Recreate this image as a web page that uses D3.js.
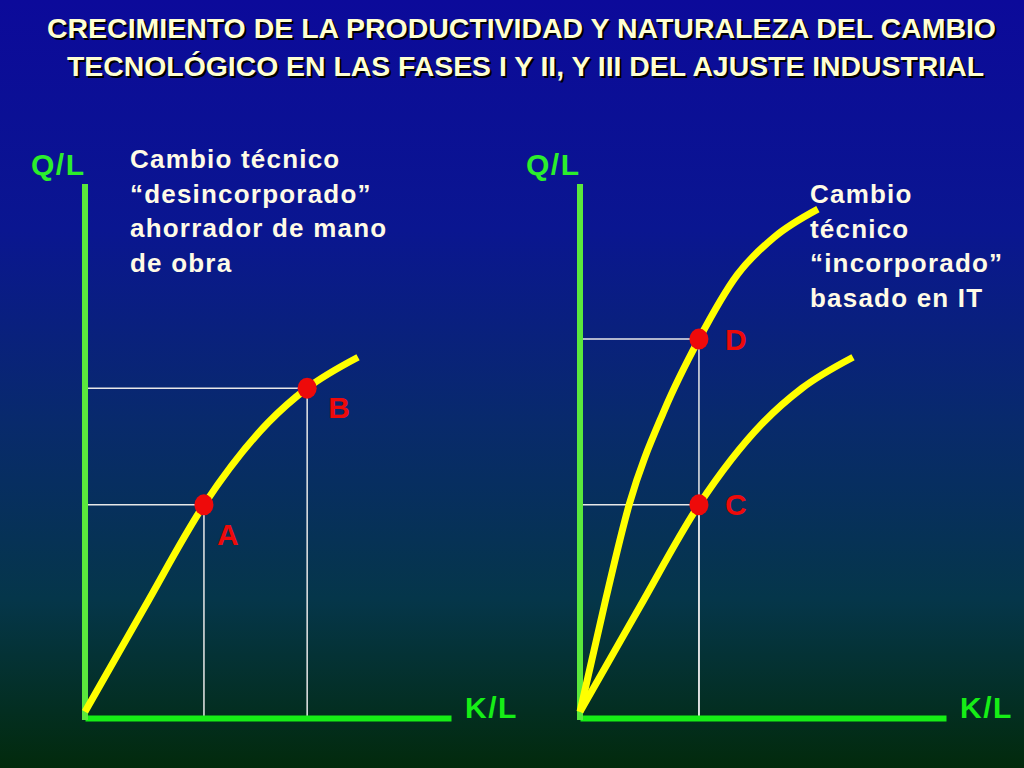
<!DOCTYPE html>
<html>
<head>
<meta charset="utf-8">
<script src="https://cdn.jsdelivr.net/npm/d3@7"></script>
<style>
  html, body { margin: 0; padding: 0; background: #0a0a8c; }
  svg { display: block; }
  text { font-family: "Liberation Sans", Arial, sans-serif; font-weight: bold; }
</style>
</head>
<body>
<div class="container"></div>
<script>
// textos
var titleLines = [
  "CRECIMIENTO DE LA PRODUCTIVIDAD Y NATURALEZA DEL CAMBIO",
  "TECNOLÓGICO EN LAS FASES I Y II, Y III DEL AJUSTE INDUSTRIAL"
];
var noteLeft  = ["Cambio técnico", "\u201cdesincorporado\u201d", "ahorrador de mano", "de obra"];
var noteRight = ["Cambio", "técnico", "\u201cincorporado\u201d", "basado en IT"];
var yLabel = "Q/L";
var xLabel = "K/L";

// curvas (K/L, Q/L) en unidades 0-10
var curveDesincorporado = [[0, 0.1], [1.62, 2.05], [3.25, 3.98], [5.0, 5.52], [6.07, 6.17], [7.46, 6.75]];
var curveIncorporado    = [[0, 0.1], [0.7, 2.2], [1.35, 4.0], [2.3, 5.75], [3.25, 7.09], [4.3, 8.3], [5.3, 9.0], [6.5, 9.53]];

// puntos
var pointsLeft  = [{name: "A", k: 3.25, q: 3.98}, {name: "B", k: 6.07, q: 6.17}];
var pointsRight = [{name: "C", k: 3.25, q: 3.98}, {name: "D", k: 3.25, q: 7.09}];

// desplazamiento de las letras respecto al punto
var labelShift = {A: [13, 40], B: [21, 30], C: [26, 10], D: [26, 11]};

var width = 1024;
var height = 768;

var svg = d3.select(".container").append("svg")
            .attr("width", width)
            .attr("height", height);

var grad = svg.append("defs").append("linearGradient")
              .attr("id", "bg")
              .attr("x1", 0).attr("y1", 0).attr("x2", 0).attr("y2", 1);
[[0, "#0c0a9a"], [0.3, "#0a1690"], [0.55, "#082a6c"], [0.78, "#05364a"], [1, "#022a0c"]]
  .forEach(s => grad.append("stop").attr("offset", s[0]).attr("stop-color", s[1]));

svg.append("rect")
   .attr("width", width)
   .attr("height", height)
   .attr("fill", "url(#bg)");

// titulo con sombra
var titleX = [521.5, 525.5];
var titleW = [949, 917];
var title = svg.append("g").attr("text-anchor", "middle").style("font-size", "28px");
[[2, 2, "#000000"], [0, 0, "#ffffd2"]].forEach(function(s) {
  title.selectAll(null)
       .data(titleLines)
       .enter().append("text")
       .attr("x", (d, i) => titleX[i] + s[0])
       .attr("y", (d, i) => 37.5 + i * 38.5 + s[1])
       .attr("textLength", (d, i) => titleW[i])
       .attr("lengthAdjust", "spacingAndGlyphs")
       .attr("fill", s[2])
       .text(d => d);
});

var y = d3.scaleLinear().domain([0, 10]).range([717, 184]);

var line = function(x) {
  return d3.line()
           .x(d => x(d[0]))
           .y(d => y(d[1]))
           .curve(d3.curveMonotoneX);
};

function panel(x0, curves, points, note, noteX, noteY) {
  var x = d3.scaleLinear().domain([0, 10]).range([x0, x0 + 366]);
  var g = svg.append("g");

  // guias
  g.selectAll("line.h")
   .data(points)
   .enter().append("line")
   .attr("x1", x(0)).attr("x2", d => x(d.k))
   .attr("y1", d => y(d.q)).attr("y2", d => y(d.q))
   .attr("stroke", "#e8e8e8").attr("stroke-width", 1.5);

  g.selectAll("line.v")
   .data(points)
   .enter().append("line")
   .attr("x1", d => x(d.k)).attr("x2", d => x(d.k))
   .attr("y1", d => y(d.q)).attr("y2", y(0))
   .attr("stroke", "#e8e8e8").attr("stroke-width", 1.5);

  // ejes
  var xAxis = g.append("g")
               .attr("transform", `translate(0,${y(0) + 1})`)
               .call(d3.axisBottom(x).tickValues([]).tickSizeOuter(0));
  xAxis.select(".domain").attr("stroke", "#16ee16").attr("stroke-width", 6);

  var yAxis = g.append("g")
               .attr("transform", `translate(${x(0)},0)`)
               .call(d3.axisLeft(y).tickValues([]).tickSizeOuter(0));
  yAxis.select(".domain").attr("stroke", "#5ae83c").attr("stroke-width", 6)
       .attr("d", `M0,${y(10)}V${y(0) + 3}`);

  // curvas
  g.selectAll("path.curve")
   .data(curves)
   .enter().append("path")
   .attr("class", "curve")
   .attr("d", d => line(x)(d))
   .attr("fill", "none")
   .attr("stroke", "#ffff00")
   .attr("stroke-width", 7);

  // puntos
  g.selectAll("ellipse")
   .data(points)
   .enter().append("ellipse")
   .attr("cx", d => x(d.k))
   .attr("cy", d => y(d.q))
   .attr("rx", 9.5).attr("ry", 10.5)
   .attr("fill", "#ee0a0a");

  g.selectAll("text.pt")
   .data(points)
   .enter().append("text")
   .attr("x", d => x(d.k) + labelShift[d.name][0])
   .attr("y", d => y(d.q) + labelShift[d.name][1])
   .attr("fill", "#ee0a0a")
   .style("font-size", "30px")
   .text(d => d.name);

  // etiquetas de ejes
  g.append("text")
   .attr("x", x(0) - 54).attr("y", 175)
   .attr("fill", "#2cee2c")
   .style("font-size", "30px")
   .style("letter-spacing", "1.5px")
   .text(yLabel);

  g.append("text")
   .attr("x", x(10) + 14).attr("y", 718)
   .attr("fill", "#16ee16")
   .style("font-size", "30px")
   .style("letter-spacing", "1.5px")
   .text(xLabel);

  // nota
  g.selectAll("text.note")
   .data(note)
   .enter().append("text")
   .attr("x", noteX)
   .attr("y", (d, i) => noteY + i * 34.5)
   .attr("fill", "#fffbe6")
   .style("font-size", "26px")
   .style("letter-spacing", "1.2px")
   .text(d => d);
}

panel(85, [curveDesincorporado], pointsLeft, noteLeft, 130, 168);
panel(580, [curveIncorporado, curveDesincorporado], pointsRight, noteRight, 810, 203);
</script>
</body>
</html>
